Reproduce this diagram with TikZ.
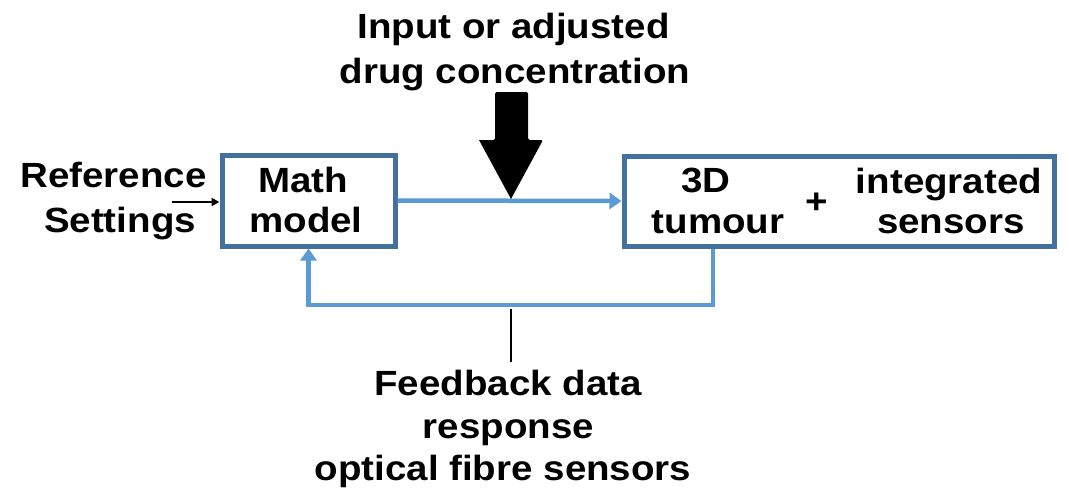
\documentclass[tikz,border=0pt]{standalone}
\usepackage{fontspec}
\setmainfont{Liberation Sans}[FakeStretch=1.1]
\usetikzlibrary{arrows.meta}
\definecolor{boxblue}{HTML}{41719C}
\definecolor{lineblue}{HTML}{5B9BD5}
\begin{document}
\begin{tikzpicture}[x=1pt,y=-1pt,
  box/.style={draw=boxblue,line width=5pt,rectangle,inner sep=0pt,fill=white},
  txt/.style={font=\fontsize{35}{40}\selectfont\bfseries,inner sep=0pt,anchor=base},
  flow/.style={draw=lineblue,line width=4.5pt,-{Triangle[length=12pt,width=16pt]}},
  thin/.style={draw=black,line width=2.5pt}]
\useasboundingbox (0,0) rectangle (1069,488);
\fill[white] (0,0) rectangle (1069,488);
% boxes
\node[box,minimum width=173pt,minimum height=91pt] (math) at (308.5,200.5) {};
\node[box,minimum width=430pt,minimum height=90pt] (tum) at (839,201) {};
% texts
\node[txt] (t1) at (303,192) {Math};
\node[txt] (t2) at (306,232) {model};
\node[txt] (t3) at (706,192) {3D};
\node[txt] (t4) at (718,233) {tumour};
\node[txt,anchor=center] (plus) at (817,203) {+};
\node[txt] (t5) at (949,193) {integrated};
\node[txt] (t6) at (951,233) {sensors};
\node[txt] (r1) at (113.5,187) {Reference};
\node[txt] (r2) at (120,232) {Settings};
\node[txt] (i1) at (513.5,38) {Input or adjusted};
\node[txt] (i2) at (515,83) {drug concentration};
\node[txt] (f1) at (508,395) {Feedback data};
\node[txt] (f2) at (508.5,438) {response};
\node[txt] (f3) at (503,480) {optical fibre sensors};
% main flow
\draw[flow] (math.east) -- (tum.west);
% feedback loop
\coordinate (fbr) at (713,305);
\coordinate (fbl) at (308.5,305);
\draw[flow] ([xshift=-126pt]tum.south) -- (fbr) -- (fbl) -- (math.south);
% feedback label line
\coordinate (fbtop) at (511,309);
\coordinate (fbbot) at (511,362);
\draw[thin] (fbtop) -- (fbbot);
% reference arrow
\coordinate (refstart) at (172,202);
\draw[thin,-{Triangle[length=8pt,width=8pt]}] (refstart) -- (math.west |- refstart);
% big black input arrow
\coordinate (tip) at (511,199);
\fill[black,rounded corners=1.5pt] (495,92) -- (528,92) -- (528,140) -- (543,140) [sharp corners] -- (tip) -- (479,140) [rounded corners=1.5pt] -- (495,140) -- cycle;
\end{tikzpicture}
\end{document}
